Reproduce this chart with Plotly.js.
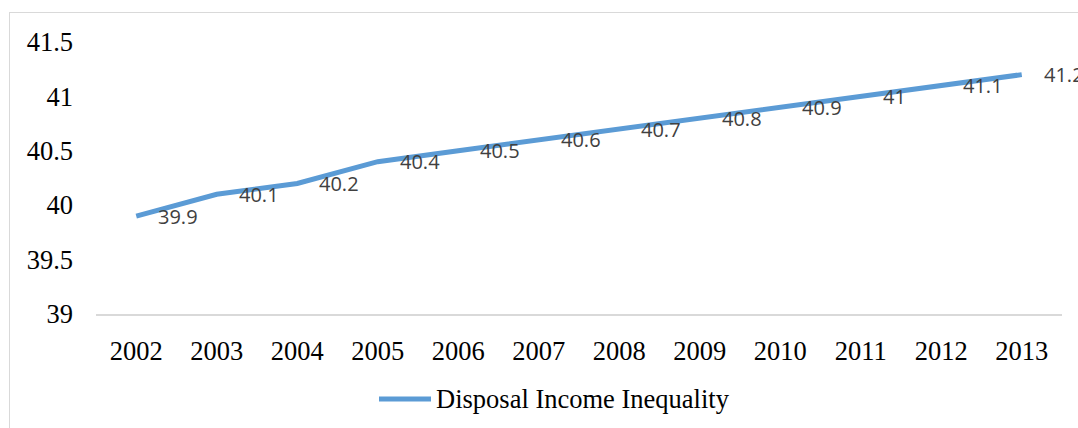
<!DOCTYPE html>
<html>
<head>
<meta charset="utf-8">
<script src="https://cdn.plot.ly/plotly-3.0.1.min.js"></script>
<style>
  html, body { margin: 0; padding: 0; background: #ffffff; }
  #chart { width: 1078px; height: 428px; position: absolute; left: 0; top: 0; }
  #frame { position: absolute; left: 9px; top: 12px; width: 1200px; height: 600px;
           border: 1px solid #d9d9d9; pointer-events: none; box-sizing: border-box; }
</style>
</head>
<body>
<div id="chart"></div>
<div id="frame"></div>
<script>
// Disposable income inequality by year
const years = ['2002', '2003', '2004', '2005', '2006', '2007', '2008', '2009', '2010', '2011', '2012', '2013'];
const inequality = [39.9, 40.1, 40.2, 40.4, 40.5, 40.6, 40.7, 40.8, 40.9, 41, 41.1, 41.2];
const seriesName = 'Disposal Income Inequality';
const yTicks = [39, 39.5, 40, 40.5, 41, 41.5];

const lineColor = '#5b9bd5';
const serif = 'Liberation Serif, Times New Roman, serif';
const sans = 'Open Sans, sans-serif';

const W = 1078, H = 428;
const M = { l: 96, r: 16, t: 42, b: 114 };
const plotW = W - M.l - M.r, plotH = H - M.t - M.b;
// pixel position -> paper fraction of the plot area
const px = x => (x - M.l) / plotW;
const py = y => 1 - (y - M.t) / plotH;

const trace = {
  x: years,
  y: inequality,
  type: 'scatter',
  mode: 'lines',
  name: seriesName,
  line: { color: lineColor, width: 5 },
  showlegend: false,
  hoverinfo: 'x+y'
};

// value labels placed to the right of each point
const annotations = years.map((yr, i) => ({
  x: i,
  y: inequality[i],
  xref: 'x',
  yref: 'y',
  text: String(inequality[i]),
  showarrow: false,
  xanchor: 'left',
  yanchor: 'middle',
  xshift: 20,
  font: { family: sans, size: 20, color: '#404040' }
}));

// legend entry below the axis
annotations.push({
  x: px(434), y: py(399), xref: 'paper', yref: 'paper',
  text: seriesName, showarrow: false, xanchor: 'left', yanchor: 'middle',
  font: { family: serif, size: 26.5, color: '#000000' }
});

const shapes = [{
  type: 'line', xref: 'paper', yref: 'paper',
  x0: px(379), x1: px(431), y0: py(399), y1: py(399),
  line: { color: lineColor, width: 5 }
}];

const layout = {
  width: W,
  height: H,
  margin: M,
  font: { family: serif, size: 26, color: '#000000' },
  paper_bgcolor: '#ffffff',
  plot_bgcolor: '#ffffff',
  xaxis: {
    type: 'category',
    range: [-0.5, 11.5],
    showgrid: false,
    zeroline: false,
    showline: true,
    linecolor: '#d9d9d9',
    linewidth: 1.5,
    ticks: '',
    ticklabelstandoff: 13,
    tickfont: { family: serif, size: 26.5, color: '#000000' }
  },
  yaxis: {
    range: [39, 41.5],
    tickvals: yTicks,
    ticktext: yTicks.map(String),
    showgrid: false,
    zeroline: false,
    showline: false,
    ticks: '',
    ticklabelstandoff: 22,
    tickfont: { family: serif, size: 26.5, color: '#000000' }
  },
  annotations: annotations,
  shapes: shapes,
  showlegend: false
};

Plotly.newPlot('chart', [trace], layout, { displayModeBar: false, staticPlot: true });
</script>
</body>
</html>
